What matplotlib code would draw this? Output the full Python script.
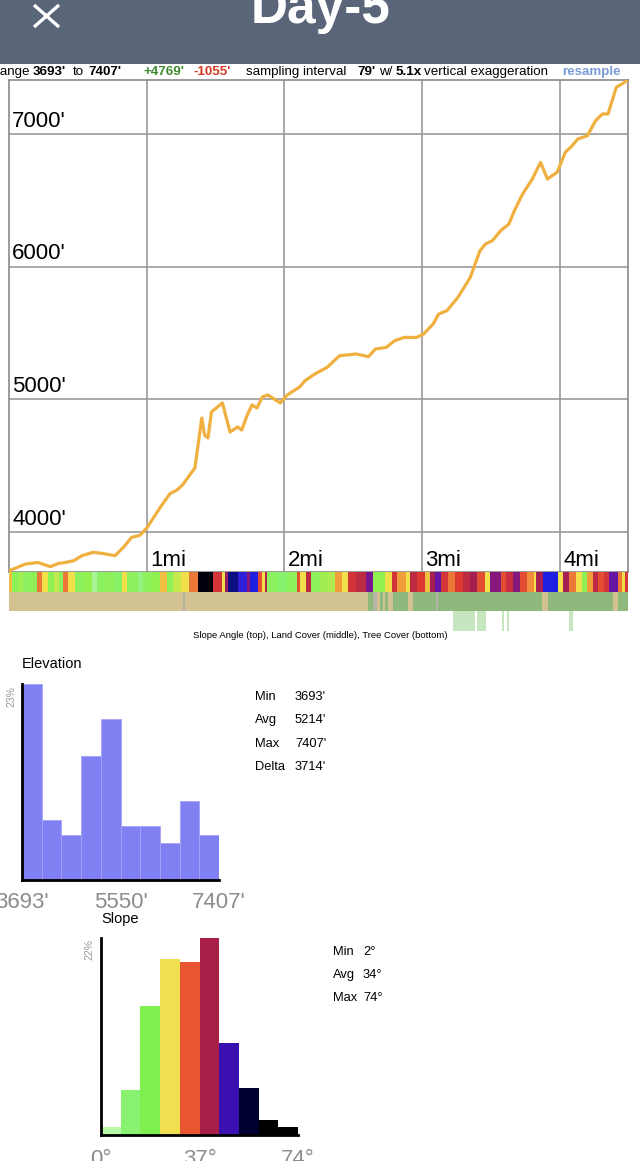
import numpy as np
import matplotlib
matplotlib.use('Agg')
import matplotlib.pyplot as plt
from matplotlib.colors import LinearSegmentedColormap, Normalize

plt.rcParams['font.family'] = ['Liberation Sans', 'DejaVu Sans']

W, H = 640, 1161

# elevation profile (miles, feet)
dist_mi = [0.00, 0.12, 0.21, 0.30, 0.36, 0.41, 0.47, 0.53, 0.61, 0.68, 0.77, 0.83, 0.89, 0.95,
           1.00, 1.11, 1.17, 1.22, 1.26, 1.35, 1.40, 1.42, 1.445, 1.47, 1.55, 1.605, 1.66, 1.69,
           1.73, 1.765, 1.80, 1.84, 1.88, 1.97, 2.02, 2.11, 2.15, 2.22, 2.31,
           2.40, 2.52, 2.61, 2.66, 2.74, 2.80, 2.87, 2.96, 3.01, 3.08, 3.12, 3.18, 3.26, 3.35,
           3.42, 3.46, 3.51, 3.57, 3.63, 3.67, 3.73, 3.80, 3.86, 3.91, 3.98, 4.04, 4.09, 4.13,
           4.20, 4.26, 4.31, 4.35, 4.38, 4.41, 4.49]
elev_ft = [3708, 3759, 3771, 3739, 3764, 3771, 3784, 3822, 3847, 3839, 3822, 3884, 3960, 3975,
           4030, 4204, 4290, 4317, 4355, 4483, 4860, 4732, 4709, 4905, 4973, 4754, 4792, 4769,
           4882, 4958, 4935, 5018, 5033, 4973, 5033, 5093, 5141, 5191, 5241,
           5329, 5342, 5322, 5379, 5392, 5442, 5467, 5467, 5492, 5568, 5643, 5668, 5769, 5920,
           6121, 6171, 6196, 6271, 6322, 6422, 6548, 6661, 6786, 6661, 6711, 6862, 6912, 6962,
           6987, 7101, 7151, 7151, 7251, 7352, 7402]
total_mi = 4.495
elev_min, elev_max = 3693, 7407

# slope strip: segment start (mi) and slope angle (deg)
slope_start = [0.00, 0.02, 0.07, 0.10, 0.15, 0.20, 0.24, 0.28, 0.33, 0.36, 0.39, 0.43, 0.48, 0.54,
               0.60, 0.64, 0.70, 0.76, 0.82, 0.86, 0.94, 0.97, 1.03,
               1.10, 1.15, 1.19, 1.25, 1.31, 1.37, 1.48, 1.55, 1.57, 1.59, 1.66, 1.73, 1.75, 1.81, 1.84,
               1.86, 1.87, 1.95, 2.02, 2.09, 2.11, 2.16, 2.19, 2.26, 2.32, 2.37, 2.42, 2.46, 2.52,
               2.59, 2.64, 2.73, 2.78, 2.82, 2.88, 2.91, 2.96, 3.02, 3.06, 3.09, 3.14, 3.19, 3.24,
               3.30, 3.35, 3.40, 3.46, 3.49, 3.57, 3.61, 3.66, 3.71, 3.76, 3.81, 3.83, 3.88, 3.99,
               4.02, 4.07, 4.12, 4.16, 4.20, 4.24, 4.28, 4.32, 4.36, 4.42, 4.45, 4.47]
slope_deg = [28, 17, 21, 15, 18, 32, 26, 19, 23, 16, 32, 26, 16, 20,
             5, 14, 18, 12, 26, 16, 8, 16, 20,
             28, 18, 23, 26, 32, 62, 36, 26, 41, 52, 47, 42, 48, 34, 26,
             39, 15, 10, 17, 34, 26, 38, 17, 21, 22, 30, 26, 36, 38,
             43, 20, 26, 36, 30, 26, 38, 35, 28, 40, 44, 36, 32, 35,
             38, 40, 34, 26, 42, 34, 37, 42, 34, 31, 26, 40, 48, 26,
             40, 32, 26, 18, 30, 38, 34, 36, 44, 32, 26, 36]

# land cover strip: segment start (mi) and class
land_start = [0.000, 1.264, 1.278, 2.607, 2.643, 2.672, 2.694, 2.716, 2.731, 2.752, 2.789,
              2.898, 2.934, 3.101, 3.115, 3.871, 3.914, 4.386, 4.423]
land_class = ['bare', 'gray', 'bare', 'forest', 'gray', 'bare', 'forest', 'bare', 'forest', 'bare',
              'forest', 'bare', 'forest', 'gray', 'forest', 'bare', 'forest', 'bare', 'forest']
land_colors = {'bare': '#d3c291', 'forest': '#8fb97c', 'gray': '#b3b3a6'}

# tree cover strip: (start mi, end mi)
tree_start = [3.224, 3.399, 3.580, 3.617, 4.067]
tree_end = [3.384, 3.464, 3.595, 3.631, 4.096]

# histograms
elev_hist = [23.0, 7.0, 5.3, 14.5, 18.9, 6.3, 6.3, 4.3, 9.3, 5.3]
slope_hist = [0.9, 5.0, 14.4, 19.6, 19.3, 22.0, 10.3, 5.3, 1.7, 0.9]
slope_hist_colors = ['#b8f8a8', '#88f270', '#80f050', '#f0e050', '#e85530',
                     '#a82048', '#3a10b0', '#000030', '#000000', '#000000']
slope_min, slope_max = 0, 74

elev_stats = [('Min', "3693'"), ('Avg', "5214'"), ('Max', "7407'"), ('Delta', "3714'")]
slope_stats = [('Min', '2°'), ('Avg', '34°'), ('Max', '74°')]


def rect(l, t, r, b):
    return [l / W, 1 - b / H, (r - l) / W, (b - t) / H]


def ftext(x, y, s, **kw):
    return fig.text(x / W, 1 - y / H, s, **kw)


fig = plt.figure(figsize=(W / 100, H / 100), dpi=100)

# header bar
hdr = fig.add_axes(rect(0, 0, W, 64))
hdr.set_xlim(0, W)
hdr.set_ylim(64, 0)
hdr.set_facecolor('#5b6579')
hdr.set_xticks([])
hdr.set_yticks([])
for s in hdr.spines.values():
    s.set_visible(False)
hdr.plot([34, 59], [5, 27], color='white', lw=2.4, solid_capstyle='butt')
hdr.plot([34, 59], [27, 5], color='white', lw=2.4, solid_capstyle='butt')
ftext(320, 23, 'Day-5', color='white', fontsize=37, weight='bold', ha='center', va='baseline')

# summary line
summary = [(-9, 'Range', 'black', 'normal'), (33, "3693'", 'black', 'bold'), (73, 'to', 'black', 'normal'),
           (88, "7407'", 'black', 'bold'), (143, "+4769'", '#3b8a2c', 'bold'),
           (193, "-1055'", '#d23a25', 'bold'), (246, 'sampling interval', 'black', 'normal'),
           (357, "79'", 'black', 'bold'), (379, 'w/', 'black', 'normal'), (396, '5.1x', 'black', 'bold'),
           (424, 'vertical exaggeration', 'black', 'normal'), (562, 'resample', '#7b9bd8', 'bold')]
for x, s, c, w in summary:
    ftext(x, 72, s, color=c, weight=w, fontsize=9.6, ha='left', va='center')

# main elevation profile
ax = fig.add_axes(rect(9, 80, 628, 572))
ax.plot(dist_mi, elev_ft, color='#f0b040', lw=2.3, zorder=3)
ax.set_xlim(0, total_mi)
ax.set_ylim(3699, elev_max)
for m in range(1, 5):
    ax.axvline(m, color='#9a9a9a', lw=1.2, zorder=1)
    ax.text(m + 0.025, 3745, f'{m}mi', fontsize=16, ha='left', va='baseline', zorder=4)
for e in range(4000, 8000, 1000):
    ax.axhline(e, color='#9a9a9a', lw=1.2, zorder=1)
    ax.text(0.022, e + 55, f"{e}'", fontsize=16, ha='left', va='baseline', zorder=4)
ax.set_xticks([])
ax.set_yticks([])
for s in ax.spines.values():
    s.set_color('#8a8a8a')
    s.set_linewidth(1.2)

# strips
sx = fig.add_axes(rect(9, 572, 628, 631))
sx.set_xlim(0, total_mi)
sx.set_ylim(0, 3)
sx.axis('off')
cmap = LinearSegmentedColormap.from_list('slope', [
    (0.0, '#c8f8c0'), (10 / 64, '#86f270'), (20 / 64, '#90f050'), (26 / 64, '#f2e24a'),
    (31 / 64, '#f09038'), (35 / 64, '#e03a30'), (40 / 64, '#a82050'), (44 / 64, '#6a12a0'),
    (48 / 64, '#2020e6'), (55 / 64, '#000040'), (1.0, '#000000')])
norm = Normalize(0, 64)
s_edges = slope_start + [total_mi]
sx.broken_barh([(s_edges[i], s_edges[i + 1] - s_edges[i]) for i in range(len(slope_start))], (2, 1),
               facecolors=[cmap(norm(v)) for v in slope_deg], edgecolor='none')
l_edges = land_start + [total_mi]
sx.broken_barh([(l_edges[i], l_edges[i + 1] - l_edges[i]) for i in range(len(land_start))], (1, 1),
               facecolors=[land_colors[c] for c in land_class], edgecolor='none')
sx.broken_barh([(a, b - a) for a, b in zip(tree_start, tree_end)], (0, 1),
               facecolors='#c6e6c0', edgecolor='none')
ftext(320, 636, 'Slope Angle (top), Land Cover (middle), Tree Cover (bottom)',
      fontsize=6.8, ha='center', va='center')

# elevation histogram
eh = fig.add_axes(rect(22, 684, 219, 880))
e_edges = np.linspace(elev_min, elev_max, len(elev_hist) + 1)
eh.bar(e_edges[:-1], elev_hist, width=np.diff(e_edges), align='edge',
       color='#8080f2', edgecolor='#a4a4f6', lw=0.6)
eh.set_xlim(elev_min, elev_max)
eh.set_ylim(0, max(elev_hist))
eh.set_yticks([])
eh.set_xticks([elev_min, (elev_min + elev_max) / 2, elev_max])
eh.set_xticklabels(["3693'", "5550'", "7407'"], fontsize=16, color='#8c8c8c')
eh.tick_params(axis='x', length=0, pad=9)
for k in ('top', 'right'):
    eh.spines[k].set_visible(False)
for k in ('left', 'bottom'):
    eh.spines[k].set_linewidth(2)
ftext(22, 664, 'Elevation', fontsize=10.5, ha='left', va='center')
ftext(11, 697, '23%', fontsize=7.5, color='#999999', rotation=90, ha='center', va='center')
for i, (k, v) in enumerate(elev_stats):
    ftext(255, 697 + i * 23.4, k, fontsize=9.3, ha='left', va='center')
    ftext(295, 697 + i * 23.4, v, fontsize=9.3, ha='left', va='center')

# slope histogram
sh = fig.add_axes(rect(101, 938, 298, 1135))
b_edges = np.linspace(slope_min, slope_max, len(slope_hist) + 1)
sh.bar(b_edges[:-1], slope_hist, width=np.diff(b_edges), align='edge', color=slope_hist_colors)
sh.set_xlim(slope_min, slope_max)
sh.set_ylim(0, max(slope_hist))
sh.set_yticks([])
sh.set_xticks([0, 37, 74])
sh.set_xticklabels(['0°', '37°', '74°'], fontsize=16, color='#8c8c8c')
sh.tick_params(axis='x', length=0, pad=10)
for k in ('top', 'right'):
    sh.spines[k].set_visible(False)
for k in ('left', 'bottom'):
    sh.spines[k].set_linewidth(2)
ftext(101, 919, 'Slope', fontsize=10.5, ha='left', va='center')
ftext(89, 950, '22%', fontsize=7.5, color='#999999', rotation=90, ha='center', va='center')
for i, (k, v) in enumerate(slope_stats):
    ftext(333, 952 + i * 23, k, fontsize=9.3, ha='left', va='center')
    ftext(363, 952 + i * 23, v, fontsize=9.3, ha='left', va='center')

fig.savefig('out.png', dpi=100)
